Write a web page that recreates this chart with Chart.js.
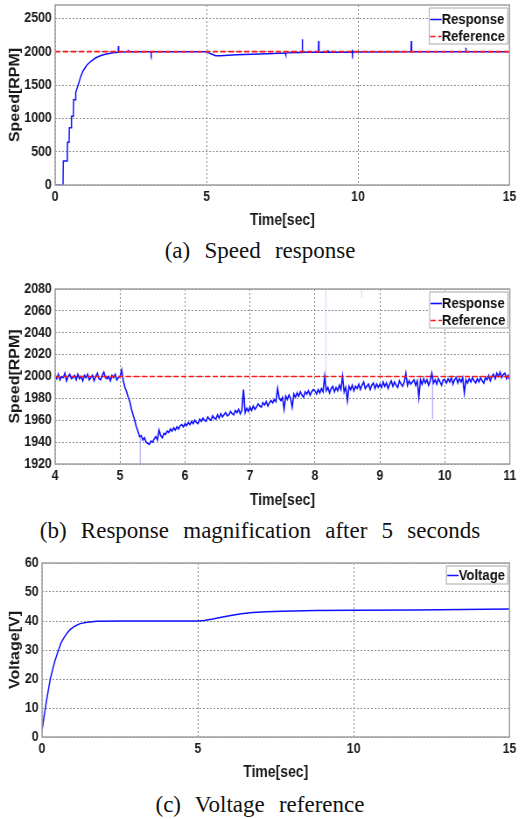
<!DOCTYPE html>
<html>
<head>
<meta charset="utf-8">
<script src="https://cdn.jsdelivr.net/npm/chart.js@4.4.1/dist/chart.umd.min.js"></script>
<style>
  body { margin: 0; background: #fff; width: 520px; height: 819px; position: relative; overflow: hidden; }
  /* the source figure is squeezed horizontally; draw wider and scale back */
  canvas { position: absolute; left: 0; transform-origin: 0 0; transform: scaleX(0.875); }
  .cap { position: absolute; left: 0; width: 520px; height: 30px; line-height: 30px; text-align: center;
         font-family: 'Liberation Serif', 'Times New Roman', serif; font-size: 23px; word-spacing: 8.5px; color: #111; }
</style>
</head>
<body>
<canvas id="chartA" width="594" height="245" style="top:-9px"></canvas>
<div class="cap" style="top:236px">(a) Speed response</div>
<canvas id="chartB" width="594" height="241" style="top:275px"></canvas>
<div class="cap" style="top:516px">(b) Response magnification after 5 seconds</div>
<canvas id="chartC" width="594" height="239" style="top:549px"></canvas>
<div class="cap" style="top:790px">(c) Voltage reference</div>
<script>
// --- data (a) speed response, 0..15 s
const speedTimeA = [0,0.26,0.27,0.40,0.41,0.46,0.47,0.53,0.54,0.60,0.61,0.67,0.68,0.76,0.84,0.92,1.05,1.19,1.33,1.47,
  1.65,1.9,2.08,2.09,2.1,2.4,2.41,2.42,3.16,3.17,3.18,5.0,5.1,5.3,5.45,6.0,7.0,7.6,7.61,7.62,
  8.15,8.16,8.17,8.69,8.70,8.71,9.0,9.01,9.02,9.8,9.81,9.82,9.83,11.75,11.76,11.77,13.55,13.56,13.57,15];
const speedA = [0,0,360,360,640,640,860,860,1030,1030,1280,1280,1390,1500,1620,1710,1800,1860,1905,1935,
  1962,1985,1992,2085,1995,1998,2030,1999,2000,1975,2000,2000,1975,1940,1940,1955,1970,1980,1955,1982,
  1988,2185,1990,1992,2160,1992,1993,2025,1993,1996,2030,1965,1996,1998,2160,1998,2000,2060,2000,2000];
const refTimeA = [0, 15];
const refA = [2000, 2000];
const xTicksA = [0, 5, 10, 15];
const yTicksA = [0, 500, 1000, 1500, 2000, 2500];

// --- data (b) zoom 4..11 s, one sample every 0.025 s
const zoomStart = 4, zoomStep = 0.025;
const speedB = [
  2001,1998,2002,1997,2000,1999,2003,1996,2000,2002,1998,1999,2001,1997,2002,1998,2000,1996,2001,1999,
  2002,1997,1999,2001,1996,2000,2003,1998,1997,2001,2004,1999,1998,2000,1996,2001,1999,2002,1997,1999,
  2000,2006,1996,1990,1986,1981,1977,1970,1965,1960,1954,1950,1945,1946,1942,1944,1940,1939,1938,1941,
  1940,1943,1945,1942,1951,1946,1944,1948,1947,1950,1949,1952,1950,1953,1951,1954,1952,1955,1956,1954,
  1957,1955,1958,1956,1959,1957,1960,1958,1957,1961,1959,1962,1960,1959,1963,1961,1960,1964,1962,1961,
  1965,1962,1966,1963,1965,1967,1964,1965,1968,1966,1965,1969,1967,1970,1966,1969,1988,1967,1971,1968,
  1972,1969,1973,1970,1972,1975,1973,1972,1976,1974,1977,1973,1976,1978,1976,1979,1977,1989,1980,1978,
  1981,1970,1982,1979,1983,1980,1972,1984,1981,1985,1982,1986,1983,1981,1986,1984,1987,1983,1986,1988,
  1987,1984,1988,1985,1989,1986,2000,1987,1990,1985,1989,1991,1986,1990,1987,1992,1988,2000,1986,1990,
  1978,1991,1988,1992,1987,1991,1989,1993,1988,1992,1995,1989,1991,1993,1988,1992,1994,1989,1993,1990,
  1993,1990,1995,1991,1994,1989,1993,1996,1991,1995,1992,1990,1996,1993,1991,1995,2003,1992,1996,1993,
  1995,1997,1992,1996,1981,1997,1993,1998,1994,1997,1992,1996,2003,1994,1997,1993,1998,1995,1992,1997,
  1997,1994,1998,1995,1999,1993,1997,1999,1994,1998,1995,1999,1985,1997,1994,1998,1995,1999,1996,1994,
  1998,1995,1999,1996,1994,1999,1997,2001,1996,2000,2002,1998,2003,2000,2004,1999,2002,2003,1998,2001,
  1997];
// faint single-sample spikes (from, to)
const spikeTimeB = [5.31, 8.17, 8.72, 9.81];
const spikeFromB = [1945, 1990, 2072, 1996];
const spikeToB = [1915, 2150, 2150, 1961];
const refTimeB = [4, 11];
const refB = [2000, 2000];
const xTicksB = [4, 5, 6, 7, 8, 9, 10, 11];
const yTicksB = [1920, 1940, 1960, 1980, 2000, 2020, 2040, 2060, 2080];

// --- data (c) voltage
const voltTime = [0,0.1,0.2,0.27,0.35,0.42,0.53,0.6,0.69,0.8,0.9,1.05,1.22,1.45,1.76,2.5,5.0,5.2,5.48,5.8,
  6.1,6.4,6.76,7.2,7.7,8.78,10,12,15];
const volt = [2.3,9.5,16,20.2,23.6,26.5,30,32.2,34,35.8,37,38.2,39.1,39.6,39.9,40,40,40.2,40.7,41.4,
  42,42.5,42.9,43.2,43.4,43.6,43.7,43.8,44.1];
const xTicksC = [0, 5, 10, 15];
const yTicksC = [0, 10, 20, 30, 40, 50, 60];

const BLUE = '#1010ff', RED = '#ff1a1a';
const SANS = '"Liberation Sans", Arial, sans-serif';
const tickFont = { family: SANS, size: 14, weight: 'bold' };
const xTitleFont = { family: SANS, size: 16, weight: 'bold' };
const yTitleFont = { family: SANS, size: 16, weight: 'bold' };

const pts = (xs, ys) => xs.map((x, i) => ({ x: x, y: ys[i] }));

// MATLAB-like box around the axes plus a boxed legend in the upper right corner
const boxLegend = {
  id: 'boxLegend',
  afterDraw(chart) {
    const ctx = chart.ctx, a = chart.chartArea;
    ctx.save();
    ctx.strokeStyle = '#a0a0a0';
    ctx.lineWidth = 1.5;
    ctx.strokeRect(a.left, a.top, a.right - a.left, a.bottom - a.top);

    let items = chart.data.datasets.filter(d => d.label);
    if (chart.options.plugins.boxLegend.reverse) items = items.slice().reverse();
    ctx.font = 'bold 15px ' + SANS;
    const textW = Math.max(...items.map(d => ctx.measureText(d.label).width));
    const n = items.length, rowH = 17, sample = 14;
    const w = sample + textW + 3, h = n * rowH + (n > 1 ? 2 : 1);
    const x = a.right - 2 - w, y = a.top + 3;
    ctx.fillStyle = '#fff';
    ctx.fillRect(x, y, w, h);
    ctx.strokeStyle = '#a8a8a8';
    ctx.lineWidth = 1;
    ctx.strokeRect(x, y, w, h);
    items.forEach((d, i) => {
      const cy = y + (n > 1 ? 3 : 1) + rowH * (i + 0.5);
      ctx.strokeStyle = d.borderColor;
      ctx.lineWidth = d.borderWidth;
      ctx.setLineDash(d.borderDash || []);
      ctx.beginPath(); ctx.moveTo(x + 1, cy); ctx.lineTo(x + sample, cy); ctx.stroke();
      ctx.setLineDash([]);
      ctx.fillStyle = '#111';
      ctx.textBaseline = 'middle';
      ctx.fillText(d.label, x + sample, cy);
    });
    ctx.restore();
  }
};

function makeScales(xMin, xMax, xTicks, yMin, yMax, yTicks, yTitle, yWidth, xHeight) {
  const grid = { color: '#8e8e8e', lineWidth: 1, drawTicks: false };
  const border = { display: false, dash: [2, 2] };
  const label = v => String(v);
  return {
    x: {
      type: 'linear', min: xMin, max: xMax,
      grid: grid, border: border,
      ticks: { color: '#1a1a1a', font: tickFont, padding: 4, maxRotation: 0, autoSkip: false, callback: label },
      afterBuildTicks(s) { s.ticks = xTicks.map(v => ({ value: v })); },
      title: { display: true, text: 'Time[sec]', color: '#1a1a1a', font: xTitleFont, padding: { top: 0, bottom: 5.5 } },
      afterFit(s) { s.height = xHeight; }
    },
    y: {
      min: yMin, max: yMax,
      grid: grid, border: border,
      ticks: { color: '#1a1a1a', font: tickFont, padding: 4, autoSkip: false, callback: label },
      afterBuildTicks(s) { s.ticks = yTicks.map(v => ({ value: v })); },
      title: { display: true, text: yTitle, color: '#1a1a1a', font: yTitleFont, padding: { top: 7.5, bottom: 0 } },
      afterFit(s) { s.width = yWidth; }
    }
  };
}

const baseOpts = (scales, reverse) => ({
  responsive: false, animation: false, events: [],
  layout: { padding: { top: 14, right: 9.5, left: 0, bottom: 0 } },
  elements: { point: { radius: 0 }, line: { tension: 0 } },
  plugins: { legend: { display: false }, tooltip: { enabled: false }, boxLegend: { reverse: reverse } },
  scales: scales
});

// (a)
new Chart(document.getElementById('chartA'), {
  type: 'line',
  data: { datasets: [
    { label: 'Reference', data: pts(refTimeA, refA), borderColor: RED, borderWidth: 1.7, borderDash: [6, 3] },
    { label: 'Response', data: pts(speedTimeA, speedA), borderColor: BLUE, borderWidth: 1.5 }
  ] },
  options: baseOpts(makeScales(0, 15, xTicksA, 0, 2700, yTicksA, 'Speed[RPM]', 63, 51), true),
  plugins: [boxLegend]
});

// (b)
const spikeData = [];
spikeTimeB.forEach((t, i) => {
  spikeData.push({ x: t, y: spikeFromB[i] }, { x: t, y: spikeToB[i] }, { x: t, y: null });
});
new Chart(document.getElementById('chartB'), {
  type: 'line',
  data: { datasets: [
    { label: 'Reference', data: pts(refTimeB, refB), borderColor: RED, borderWidth: 1.7, borderDash: [6, 3] },
    { label: 'Response', data: speedB.map((v, i) => ({ x: zoomStart + i * zoomStep, y: v })), borderColor: BLUE, borderWidth: 1.6 },
    { data: spikeData, borderColor: 'rgba(120,120,255,0.3)', borderWidth: 1, spanGaps: false }
  ] },
  options: baseOpts(makeScales(4, 11, xTicksB, 1920, 2080, yTicksB, 'Speed[RPM]', 63, 52), true),
  plugins: [boxLegend]
});

// (c)
new Chart(document.getElementById('chartC'), {
  type: 'line',
  data: { datasets: [
    { label: 'Voltage', data: pts(voltTime, volt), borderColor: BLUE, borderWidth: 1.5 }
  ] },
  options: baseOpts(makeScales(0, 15, xTicksC, 0, 60, yTicksC, 'Voltage[V]', 48, 51), false),
  plugins: [boxLegend]
});
</script>
</body>
</html>
